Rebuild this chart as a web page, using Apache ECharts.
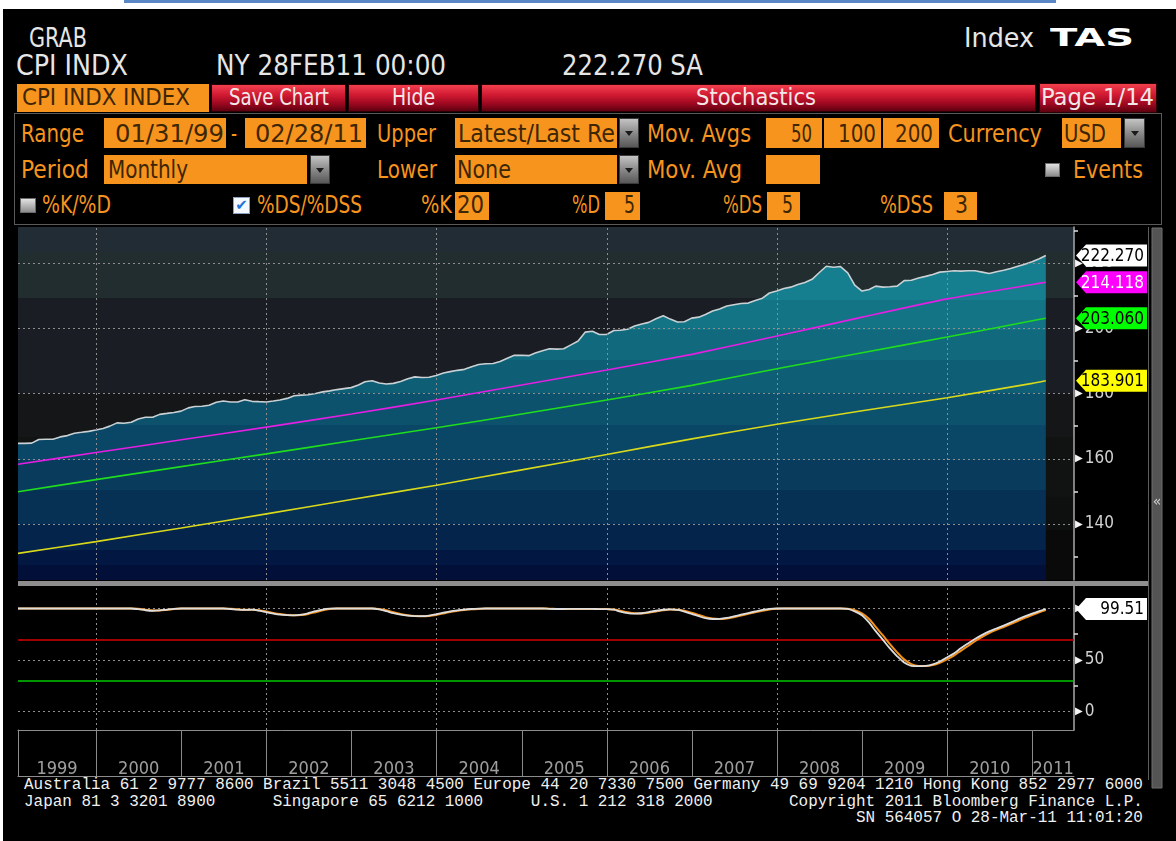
<!DOCTYPE html>
<html>
<head>
<meta charset="utf-8">
<title>CPI INDX - Stochastics</title>
<script src="https://cdn.jsdelivr.net/npm/echarts@6.0.0/dist/echarts.min.js"></script>
<style>
  html, body { margin: 0; padding: 0; width: 1176px; height: 841px; overflow: hidden; background: #fff; }
  #screen { position: absolute; left: 3px; top: 9px; right: 0; bottom: 0; background: #000; }
  #rule { position: absolute; left: 124px; top: 0; width: 932px; height: 3px; background: #5b87c4; }
  .t { position: absolute; white-space: pre; line-height: 1; transform-origin: 0 0; font-family: "Liberation Sans Narrow", "DejaVu Sans Condensed", "Liberation Sans", sans-serif; }
  .box { position: absolute; background: #f7941e; }
  .red { position: absolute; box-sizing: border-box; border: 1px solid #2a0004; background: linear-gradient(#f2404e 0%, #d11a32 38%, #9c0820 72%, #5e000f 100%); }
  .dd { position: absolute; box-sizing: border-box; border: 1px solid #3a3a3a; background: linear-gradient(#c4c4c4, #8a8a8a 50%, #585858); }
  .dd:after { content: ""; position: absolute; left: 50%; top: 50%; margin: -2px 0 0 -4px; border-left: 4px solid transparent; border-right: 4px solid transparent; border-top: 5px solid #1a1a1a; }
  .chk { position: absolute; box-sizing: border-box; background: linear-gradient(#e2e2e2, #8c8c8c); border: 1px solid #6a6a6a; }
  .tick { position: absolute; box-sizing: border-box; background: #f4f8ff; border: 1px solid #8aa0c0; color: #1f74d8; font: bold 15px "DejaVu Sans", sans-serif; line-height: 15px; text-align: center; }
  #panel { position: absolute; left: 14px; top: 113px; width: 1146px; height: 110px; border: 1px solid #5a5a5a; }
  #chart { position: absolute; left: 0; top: 0; width: 1176px; height: 841px; z-index: 5; }
</style>
</head>
<body>
<div id="screen"></div>
<div id="rule"></div>
<div id="panel"></div>
<div id="chart"></div>
<script>
// CPI INDX, monthly, Jan 1999 .. Feb 2011 (month ends)
const cpiValues = [
  164.7, 164.7, 164.8, 165.9, 166.0, 166.0, 166.7, 167.1, 167.8, 168.1, 168.4, 168.8,
  169.3, 170.0, 171.0, 170.9, 171.2, 172.2, 172.7, 172.7, 173.6, 173.9, 174.2, 174.6,
  175.6, 176.0, 176.1, 176.4, 177.3, 177.7, 177.4, 177.4, 178.1, 177.6, 177.5, 177.4,
  177.7, 178.0, 178.5, 179.3, 179.5, 179.6, 180.0, 180.5, 180.8, 181.2, 181.5, 181.8,
  182.6, 183.6, 183.9, 183.2, 182.9, 183.1, 183.7, 184.5, 185.1, 184.9, 185.0, 185.5,
  186.3, 186.7, 187.1, 187.4, 188.2, 188.9, 189.1, 189.2, 189.8, 190.8, 191.7, 191.7,
  191.6, 192.4, 193.1, 193.7, 193.6, 193.7, 194.9, 196.1, 198.8, 199.1, 198.1, 198.1,
  199.3, 199.4, 199.7, 200.7, 201.3, 201.8, 202.9, 203.8, 202.8, 201.9, 202.0, 203.1,
  203.4, 204.2, 205.3, 205.9, 206.8, 207.2, 207.6, 207.7, 208.5, 209.2, 210.8, 211.4,
  212.2, 212.6, 213.4, 214.0, 215.0, 217.0, 219.0, 218.7, 218.9, 217.0, 213.2, 211.4,
  211.9, 212.9, 212.6, 212.7, 212.9, 214.6, 214.7, 215.4, 215.9, 216.5, 217.2, 217.4,
  217.6, 217.5, 217.6, 217.6, 217.2, 216.8, 217.3, 217.8, 218.3, 219.0, 219.6, 220.4,
  221.3, 222.27
];

// moving averages read at the year marks
const maDates = ['1999-01-31', '2000-01-01', '2001-01-01', '2002-01-01', '2003-01-01', '2004-01-01', '2005-01-01',
  '2006-01-01', '2007-01-01', '2008-01-01', '2009-01-01', '2010-01-01', '2011-01-01', '2011-02-28'];
const ma50Values = [158.3, 161.9, 165.8, 169.7, 173.7, 178.0, 182.6, 187.2, 192.0, 197.6, 203.4, 209.0, 213.4, 214.118];
const ma100Values = [149.9, 153.6, 157.6, 161.5, 165.5, 169.5, 173.7, 178.0, 182.5, 187.6, 192.5, 197.3, 202.3, 203.06];
const ma200Values = [131.0, 134.6, 138.8, 143.1, 147.5, 151.9, 156.6, 161.3, 166.1, 170.6, 174.7, 178.7, 183.1, 183.901];

// %DS and %DSS, monthly, same dates as the CPI
const dsValues = [
  100, 100, 100, 100, 100, 100, 100, 100, 100, 100, 100, 100,
  100, 100, 100, 100, 100, 99.3, 98.3, 97.8, 98.2, 99.0, 99.7, 100,
  100, 100, 100, 100, 100, 100, 99.5, 98.9, 98.6, 98.9, 97.9, 96.4,
  95.0, 94.0, 93.5, 93.4, 94.0, 95.5, 97.4, 99.0, 99.8, 100, 100, 100,
  100, 100, 100, 99.2, 97.4, 95.4, 94.0, 93.1, 92.6, 92.5, 93.1, 94.4,
  95.9, 97.2, 98.2, 99.0, 99.5, 99.8, 100, 100, 100, 100, 100, 100,
  100, 100, 100, 99.6, 99.5, 99.5, 99.6, 99.6, 99.7, 99.6, 99.4, 99.4,
  98.8, 97.0, 95.5, 95.0, 95.4, 96.5, 97.8, 98.8, 99.2, 98.6, 97.0, 94.8,
  92.5, 90.6, 89.8, 90.0, 90.9, 92.4, 94.0, 95.6, 97.1, 98.6, 99.6, 100,
  100, 100, 100, 100, 100, 100, 100, 100, 100, 99.6, 97.2, 93.4,
  86.2, 78.0, 69.6, 61.2, 53.6, 47.6, 44.4, 44.0, 44.3, 45.8, 48.6, 52.5,
  56.6, 61.3, 66.0, 70.4, 74.4, 77.8, 80.6, 83.4, 86.3, 89.4, 92.4, 95.1,
  97.5, 99.51
];
const dssValues = [
  100, 100, 100, 100, 100, 100, 100, 100, 100, 100, 100, 100,
  100, 100, 100, 100, 100, 99.7, 98.9, 98.1, 98.0, 98.6, 99.4, 99.9,
  100, 100, 100, 100, 100, 100, 99.8, 99.2, 98.8, 98.8, 98.4, 97.2,
  95.7, 94.6, 93.8, 93.4, 93.7, 94.7, 96.4, 98.2, 99.4, 99.9, 100, 100,
  100, 100, 100, 99.6, 98.3, 96.4, 94.7, 93.5, 92.8, 92.5, 92.8, 93.7,
  95.1, 96.6, 97.7, 98.6, 99.2, 99.6, 99.9, 100, 100, 100, 100, 100,
  100, 100, 100, 99.8, 99.6, 99.5, 99.5, 99.6, 99.6, 99.6, 99.5, 99.4,
  99.1, 97.9, 96.3, 95.3, 95.2, 95.9, 97.1, 98.3, 99.0, 98.9, 97.8, 95.9,
  93.7, 91.6, 90.2, 89.9, 90.4, 91.6, 93.2, 94.8, 96.3, 97.8, 99.1, 99.8,
  100, 100, 100, 100, 100, 100, 100, 100, 100, 99.8, 98.4, 95.3,
  89.8, 82.1, 73.8, 65.4, 57.4, 50.6, 46.0, 44.2, 44.1, 45.0, 47.2, 50.5,
  54.5, 58.9, 63.6, 68.2, 72.4, 76.1, 79.2, 82.0, 84.8, 87.8, 90.9, 93.7,
  96.3, 98.5
];

const upperTicks = [140, 160, 180, 200, 220];
const lowerTicks = [0, 50, 100];
const lowerBands = [70, 30];
const gridYears = [2000, 2002, 2004, 2006, 2008, 2010];
const years = [1999, 2000, 2001, 2002, 2003, 2004, 2005, 2006, 2007, 2008, 2009, 2010, 2011];

const NARROW = '"Liberation Sans Narrow", "DejaVu Sans Condensed", "Liberation Sans", sans-serif';

// ---------- terminal frame (header, controls, footer) ----------
function put(cls, x, y, w, h) {
  const e = document.createElement('div');
  e.className = cls;
  Object.assign(e.style, { left: x + 'px', top: y + 'px', width: w + 'px', height: h + 'px' });
  document.body.appendChild(e);
  return e;
}

function text(s, x, base, w, size, color, extra) {
  const e = document.createElement('div');
  e.className = 't';
  e.textContent = s;
  e.style.left = x + 'px';
  e.style.top = (base - 0.85 * size) + 'px';
  e.style.fontSize = size + 'px';
  e.style.color = color;
  if (extra) Object.assign(e.style, extra);
  document.body.appendChild(e);
  const natural = e.getBoundingClientRect().width;
  if (w && natural) e.style.transform = 'scaleX(' + (w / natural).toFixed(3) + ')';
}

const WHITE = '#e6e6e6', ORANGE = '#f7941e', INK = '#3d2604', BTN = '#f3e8e8';

text('GRAB', 29, 47, 58, 26, WHITE);
text('CPI INDX', 16, 76, 112, 29, WHITE);
text('NY 28FEB11 00:00', 216, 76, 230, 29, WHITE);
text('222.270 SA', 562, 76, 141, 29, WHITE);
text('Index', 964, 47, 70, 26, WHITE);
text('TAS', 1050, 46, 84, 24, '#ffffff', { fontFamily: '"DejaVu Sans", sans-serif', fontWeight: 'bold' });

put('box', 17, 84, 192, 28);
text('CPI INDX INDEX', 22, 106, 168, 23, INK);
put('red', 211, 84, 135, 28);
text('Save Chart', 229, 106, 100, 23, BTN);
put('red', 348, 84, 131, 28);
text('Hide', 392, 106, 43, 23, BTN);
put('red', 481, 84, 555, 28);
text('Stochastics', 696, 106, 120, 23, BTN);
put('red', 1039, 83, 118, 30);
text('Page 1/14', 1041, 106, 113, 23, BTN);

// row 1
text('Range', 21, 142, 63, 24, ORANGE);
put('box', 104, 118, 122, 30); text('01/31/99', 115, 142, 109, 24, INK);
text('-', 231, 142, 6, 24, ORANGE);
put('box', 245, 118, 121, 30); text('02/28/11', 255, 142, 108, 24, INK);
text('Upper', 377, 142, 59, 24, ORANGE);
put('box', 455, 118, 162, 30); text('Latest/Last Re', 458, 142, 157, 24, INK);
put('dd', 619, 118, 20, 30);
text('Mov. Avgs', 647, 142, 104, 24, ORANGE);
put('box', 766, 118, 56, 30); text('50', 791, 142, 21, 24, INK);
put('box', 824, 118, 57, 30); text('100', 838, 142, 38, 24, INK);
put('box', 883, 118, 56, 30); text('200', 895, 142, 38, 24, INK);
text('Currency', 948, 142, 94, 24, ORANGE);
put('box', 1062, 118, 59, 30); text('USD', 1064, 142, 42, 24, INK);
put('dd', 1124, 118, 21, 30);

// row 2
text('Period', 21, 178, 68, 24, ORANGE);
put('box', 104, 155, 203, 29); text('Monthly', 108, 178, 80, 24, INK);
put('dd', 310, 155, 20, 29);
text('Lower', 377, 178, 60, 24, ORANGE);
put('box', 455, 155, 162, 29); text('None', 457, 178, 54, 24, INK);
put('dd', 619, 155, 20, 29);
text('Mov. Avg', 647, 178, 95, 24, ORANGE);
put('box', 766, 155, 54, 29);
put('chk', 1045, 163, 15, 14);
text('Events', 1073, 178, 70, 24, ORANGE);

// row 3
put('chk', 20, 198, 16, 15);
text('%K/%D', 42, 213, 69, 24, ORANGE);
put('tick', 233, 197, 17, 17).textContent = '\u2714';
text('%DS/%DSS', 257, 213, 105, 24, ORANGE);
text('%K', 421, 213, 31, 24, ORANGE);
put('box', 455, 192, 34, 28); text('20', 457, 213, 27, 24, INK);
text('%D', 572, 213, 28, 24, ORANGE);
put('box', 605, 192, 35, 28); text('5', 624, 213, 11, 24, INK);
text('%DS', 723, 213, 39, 24, ORANGE);
put('box', 767, 192, 33, 28); text('5', 782, 213, 11, 24, INK);
text('%DSS', 880, 213, 53, 24, ORANGE);
put('box', 944, 192, 33, 28); text('3', 955, 213, 13, 24, INK);

// footer
const MONO = { fontFamily: '"Liberation Mono", "DejaVu Sans Mono", monospace' };
const footer = [
  'Australia 61 2 9777 8600 Brazil 5511 3048 4500 Europe 44 20 7330 7500 Germany 49 69 9204 1210 Hong Kong 852 2977 6000',
  'Japan 81 3 3201 8900      Singapore 65 6212 1000     U.S. 1 212 318 2000        Copyright 2011 Bloomberg Finance L.P.',
  '                                                                                       SN 564057 O 28-Mar-11 11:01:20'
];
footer.forEach((line, i) => text(line, 24, 791 + i * 16.5, line.length * 9.56, 16, '#f0f0f0', MONO));

// ---------- chart ----------
function ts(s) {
  const p = s.split('-').map(Number);
  return new Date(p[0], p[1] - 1, p[2]).getTime();
}
const monthDates = cpiValues.map((v, i) => new Date(1999 + Math.floor(i / 12), (i % 12) + 1, 0).getTime());
const xMin = ts('1999-01-31');
const xMax = ts('2011-06-29');

const pairs = (dates, vals) => vals.map((v, i) => [dates[i], v]);
const cpiData = pairs(monthDates, cpiValues);
const ma50Data = pairs(maDates.map(ts), ma50Values);
const ma100Data = pairs(maDates.map(ts), ma100Values);
const ma200Data = pairs(maDates.map(ts), ma200Values);
const dsData = pairs(monthDates, dsValues);
const dssData = pairs(monthDates, dssValues);
const last = arr => arr[arr.length - 1];

function bands(y0, y1, list) {
  const stops = [];
  list.forEach((b, i) => {
    const from = (b[0] - y0) / (y1 - y0);
    const to = i + 1 < list.length ? (list[i + 1][0] - y0) / (y1 - y0) : 1;
    stops.push({ offset: from, color: b[1] }, { offset: to, color: b[1] });
  });
  return { type: 'linear', x: 0, y: y0, x2: 0, y2: y1, global: true, colorStops: stops };
}
const plotBg = bands(227, 580, [[227, '#212c34'], [252, '#222d2f'], [298, '#1a1e24'], [393, '#141617'],
  [437, '#111313'], [497, '#0e0f0f'], [530, '#0a0a0b']]);
const areaFill = bands(227, 580, [[227, '#157f8f'], [300, '#127485'], [330, '#10697d'], [360, '#0e5e75'],
  [393, '#0c526d'], [425, '#0a4665'], [460, '#093b5d'], [490, '#073055'], [524, '#04244b'],
  [550, '#021842'], [565, '#010f39']]);

const dotted = { color: '#8e8e8e', type: [2, 3], width: 1 };
const vLines = gridYears.map(y => ({ xAxis: new Date(y, 0, 1).getTime() }));
const bandColors = ['#d40000', '#00c800'];

const axisLabel = {
  show: true,
  margin: 1,
  showMinLabel: false,
  showMaxLabel: false,
  formatter: v => '{t|\u25B6}{n|' + v + '}',
  rich: {
    t: { color: '#f4f4f4', fontSize: 10, fontFamily: '"DejaVu Sans", sans-serif', padding: [0, 2, 0, 0] },
    n: { color: '#d2d2d2', fontSize: 17, fontFamily: NARROW }
  }
};

function tagRenderer(styles, digits) {
  return function (params, api) {
    const cs = params.coordSys;
    const y = api.coord([api.value(0), api.value(1)])[1];
    const x0 = cs.x + cs.width + 2;
    const st = styles[params.dataIndex];
    return {
      type: 'group',
      children: [
        { type: 'polygon', shape: { points: [[x0, y], [x0 + 10, y - 11], [x0 + 71, y - 11], [x0 + 71, y + 11], [x0 + 10, y + 11]] }, style: { fill: st.bg } },
        { type: 'text', style: { text: api.value(1).toFixed(digits), x: x0 + 68, y: y + 1, align: 'right', verticalAlign: 'middle', fill: st.fg, font: '17px ' + NARROW } }
      ]
    };
  };
}
const upperTagStyles = [{ bg: '#ffffff', fg: '#000000' }, { bg: '#ff00ff', fg: '#ffffff' }, { bg: '#00ff00', fg: '#000000' }, { bg: '#ffff00', fg: '#000000' }];

const yearLabels = years.map(y => {
  const a = Math.max(new Date(y, 0, 1).getTime(), xMin);
  const b = Math.min(new Date(y + 1, 0, 1).getTime(), xMax);
  return { name: String(y), value: [(a + b) / 2, 0.14] };
});

const timeAxis = (gridIndex, line) => ({
  type: 'time', gridIndex, min: xMin, max: xMax,
  axisLabel: { show: false }, axisTick: { show: false }, splitLine: { show: false },
  axisLine: { show: line, onZero: false, lineStyle: { color: '#8c8c8c', width: 1 } }
});

const chart = echarts.init(document.getElementById('chart'), null, { renderer: 'canvas' });
chart.setOption({
  animation: false,
  backgroundColor: 'transparent',
  grid: [
    { left: 18, top: 227, width: 1056, height: 353, show: true, backgroundColor: plotBg, borderWidth: 0, outerBoundsMode: 'none' },
    { left: 18, top: 586, width: 1056, height: 144, show: false, outerBoundsMode: 'none' },
    { left: 18, top: 730, width: 1056, height: 46, show: false, outerBoundsMode: 'none' }
  ],
  xAxis: [timeAxis(0, false), timeAxis(1, true), timeAxis(2, true)],
  yAxis: [
    {
      type: 'value', gridIndex: 0, position: 'right', min: 122.84, max: 231.03, splitNumber: 5,
      axisLine: { show: true, onZero: false, lineStyle: { color: '#a8a8a8', width: 1.5 } },
      axisTick: { show: false }, splitLine: { show: false },
      minorTick: { show: true, splitNumber: 2, length: 4, lineStyle: { color: '#e0e0e0', width: 1.5 } },
      axisLabel
    },
    {
      type: 'value', gridIndex: 1, position: 'right', min: -17.96, max: 121.84, splitNumber: 3,
      axisLine: { show: true, onZero: false, lineStyle: { color: '#a8a8a8', width: 1.5 } },
      axisTick: { show: false }, splitLine: { show: false },
      minorTick: { show: true, splitNumber: 2, length: 4, lineStyle: { color: '#e0e0e0', width: 1.5 } },
      axisLabel
    },
    {
      type: 'value', gridIndex: 2, position: 'left', min: 0, max: 1,
      axisLine: { show: true, onZero: false, lineStyle: { color: '#8c8c8c', width: 1 } },
      axisTick: { show: false }, axisLabel: { show: false }, splitLine: { show: false }
    }
  ],
  series: [
    {
      name: 'CPI INDX', type: 'line', xAxisIndex: 0, yAxisIndex: 0, data: cpiData, symbol: 'none', z: 2,
      lineStyle: { color: '#c9d1d4', width: 1.6 },
      areaStyle: { color: areaFill, opacity: 1 },
      markLine: {
        silent: true, symbol: 'none', label: { show: false }, lineStyle: dotted,
        data: vLines.concat(upperTicks.map(v => ({ yAxis: v })))
      }
    },
    { name: 'MA 200', type: 'line', xAxisIndex: 0, yAxisIndex: 0, data: ma200Data, symbol: 'none', smooth: 0.2, z: 6, lineStyle: { color: '#d9d91c', width: 1.6 } },
    { name: 'MA 100', type: 'line', xAxisIndex: 0, yAxisIndex: 0, data: ma100Data, symbol: 'none', smooth: 0.2, z: 6, lineStyle: { color: '#1fdc1f', width: 1.6 } },
    { name: 'MA 50', type: 'line', xAxisIndex: 0, yAxisIndex: 0, data: ma50Data, symbol: 'none', smooth: 0.2, z: 6, lineStyle: { color: '#e21fe2', width: 1.6 } },
    {
      type: 'custom', xAxisIndex: 0, yAxisIndex: 0, z: 10, silent: true,
      data: [last(cpiData), last(ma50Data), last(ma100Data), last(ma200Data)],
      renderItem: tagRenderer(upperTagStyles, 3)
    },
    {
      name: '%DSS', type: 'line', xAxisIndex: 1, yAxisIndex: 1, data: dssData, symbol: 'none', smooth: 0.3, z: 6,
      lineStyle: { color: '#f2901a', width: 2 },
      markLine: {
        silent: true, symbol: 'none', label: { show: false }, lineStyle: dotted,
        data: vLines.concat(lowerTicks.map(v => ({ yAxis: v })))
          .concat(lowerBands.map((v, i) => ({ yAxis: v, lineStyle: { color: bandColors[i], type: 'solid', width: 1.5 } })))
      }
    },
    { name: '%DS', type: 'line', xAxisIndex: 1, yAxisIndex: 1, data: dsData, symbol: 'none', smooth: 0.3, z: 7, lineStyle: { color: '#dedede', width: 1.8 } },
    {
      type: 'custom', xAxisIndex: 1, yAxisIndex: 1, z: 10, silent: true,
      data: [last(dsData)],
      renderItem: tagRenderer([{ bg: '#ffffff', fg: '#000000' }], 2)
    },
    {
      type: 'scatter', xAxisIndex: 2, yAxisIndex: 2, data: yearLabels, symbolSize: 1, silent: true,
      itemStyle: { color: 'rgba(0,0,0,0)' },
      label: { show: true, position: 'inside', formatter: '{b}', color: '#c6c6c6', fontSize: 18, fontFamily: NARROW },
      markLine: {
        silent: true, symbol: 'none', label: { show: false },
        lineStyle: { color: '#8a8a8a', type: 'solid', width: 1 },
        data: years.slice(1).map(y => ({ xAxis: new Date(y, 0, 1).getTime() }))
      }
    }
  ],
  graphic: [
    { type: 'rect', z: 20, shape: { x: 18, y: 581, width: 1130, height: 5 }, style: { fill: '#8e8e8e' } },
    { type: 'line', shape: { x1: 1148.5, y1: 227, x2: 1148.5, y2: 780 }, style: { stroke: '#5c5c5c', lineWidth: 1 } },
    { type: 'rect', shape: { x: 1152, y: 228, width: 10, height: 560 }, style: { fill: '#545454', stroke: '#6e6e6e' } },
    { type: 'text', style: { text: '\u00AB', x: 1157, y: 502, align: 'center', verticalAlign: 'middle', fill: '#d0d0d0', font: '14px "DejaVu Sans", sans-serif' } }
  ]
});
</script>
</body>
</html>
